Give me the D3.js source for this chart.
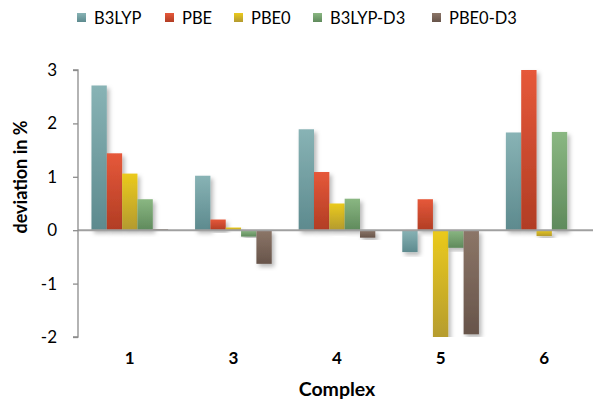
<!DOCTYPE html>
<html>
<head>
<meta charset="utf-8">
<script src="https://cdn.jsdelivr.net/npm/d3@7"></script>
<style>
  html, body { margin: 0; padding: 0; background: #fff; }
  svg { display: block; font-family: Lato, "Open Sans", "Liberation Sans", sans-serif; }
</style>
</head>
<body>
<svg id="chart" width="593" height="400"></svg>
<script>
// Complexes along the x axis
const complexes = ["1", "3", "4", "5", "6"];
// Methods (one bar per method in each group)
const methods = ["B3LYP", "PBE", "PBE0", "B3LYP-D3", "PBE0-D3"];
// Deviation in % for each method, ordered like complexes
const b3lyp   = [2.71, 1.02, 1.89, -0.41, 1.83];
const pbe     = [1.44, 0.20, 1.09, 0.58, 3.00];
const pbe0    = [1.06, 0.05, 0.50, -2.10, -0.11];
const b3lypD3 = [0.58, -0.12, 0.59, -0.33, 1.84];
const pbe0D3  = [0.02, -0.63, -0.14, -1.95, 0.00];
const yTicks  = [-2, -1, 0, 1, 2, 3];

const seriesValues = [b3lyp, pbe, pbe0, b3lypD3, pbe0D3];
const colors = [
  ["#88b3b5", "#5d8a8e"],
  ["#e6583a", "#b13d24"],
  ["#ebca1c", "#b39a30"],
  ["#8ab782", "#5f8a5c"],
  ["#8c7668", "#67544a"]
];

const svg = d3.select("#chart");
const defs = svg.append("defs");

colors.forEach((c, i) => {
  const g = defs.append("linearGradient")
    .attr("id", "grad" + i).attr("x1", 0).attr("y1", 0).attr("x2", 0).attr("y2", 1);
  g.append("stop").attr("offset", "0%").attr("stop-color", c[0]);
  g.append("stop").attr("offset", "100%").attr("stop-color", c[1]);
});

const shadow = defs.append("filter").attr("id", "shadow")
  .attr("x", "-30%").attr("y", "-10%").attr("width", "180%").attr("height", "130%");
shadow.append("feDropShadow")
  .attr("dx", 2.5).attr("dy", 3).attr("stdDeviation", 2)
  .attr("flood-color", "#000").attr("flood-opacity", 0.28);

const plot = { left: 78, right: 596, top: 70, bottom: 337 };

defs.append("clipPath").attr("id", "plotClip")
  .append("rect").attr("x", plot.left).attr("y", plot.top - 2)
  .attr("width", plot.right - plot.left).attr("height", plot.bottom - plot.top + 2);

const x0 = d3.scaleBand().domain(complexes).range([plot.left, plot.right]).paddingInner(0.26).paddingOuter(0.13);
const x1 = d3.scaleBand().domain(methods).range([0, x0.bandwidth()]);
const y = d3.scaleLinear().domain([-2, 3]).range([plot.bottom, plot.top]);

// Bars
const barsG = svg.append("g").attr("clip-path", "url(#plotClip)");
complexes.forEach((c, ci) => {
  const g = barsG.append("g").attr("transform", `translate(${x0(c)},0)`);
  methods.forEach((m, mi) => {
    const v = seriesValues[mi][ci];
    if (Math.abs(v) < 1e-9) return;
    g.append("rect")
      .attr("x", x1(m))
      .attr("width", x1.bandwidth())
      .attr("y", y(Math.max(0, v)))
      .attr("height", Math.abs(y(v) - y(0)))
      .attr("fill", `url(#grad${mi})`)
      .attr("filter", "url(#shadow)");
  });
});

// Zero line
svg.append("line")
  .attr("x1", plot.left).attr("x2", 593)
  .attr("y1", y(0)).attr("y2", y(0))
  .attr("stroke", "#a0a0a0").attr("stroke-width", 2);

// Y axis
const yAxis = d3.axisLeft(y).tickValues(yTicks).tickSize(5).tickPadding(16).tickFormat(d => String(d));
const ya = svg.append("g").attr("transform", `translate(${plot.left},0)`).call(yAxis);
ya.select(".domain").attr("stroke", "#8c8c8c").attr("stroke-width", 1.3).attr("d", `M-5,${y(3)}H0V${y(-2)}H-5`);
ya.selectAll(".tick line").attr("stroke", "#8c8c8c").attr("stroke-width", 1.3);
ya.selectAll(".tick text").attr("font-size", 17).attr("fill", "#000")
  .attr("font-family", "Lato, 'Open Sans', sans-serif");

// X category labels
svg.append("g").selectAll("text").data(complexes).join("text")
  .attr("x", d => x0(d) + x0.bandwidth() / 2)
  .attr("y", 364)
  .attr("text-anchor", "middle")
  .attr("font-size", 17).attr("font-weight", "bold")
  .text(d => d);

// Axis titles
svg.append("text")
  .attr("x", 337).attr("y", 396)
  .attr("text-anchor", "middle")
  .attr("font-size", 19.5).attr("font-weight", "bold")
  .text("Complex");

svg.append("text")
  .attr("transform", "translate(27,177) rotate(-90)")
  .attr("text-anchor", "middle")
  .attr("font-size", 18).attr("font-weight", "bold")
  .text("deviation in %");

// Legend
const legendX = [77, 165, 234, 313, 432];
const legend = svg.append("g");
methods.forEach((m, i) => {
  legend.append("rect")
    .attr("x", legendX[i]).attr("y", 13)
    .attr("width", 9).attr("height", 9)
    .attr("fill", `url(#grad${i})`);
  legend.append("text")
    .attr("x", legendX[i] + 17).attr("y", 24)
    .attr("font-size", 16.5)
    .text(m);
});
</script>
</body>
</html>
